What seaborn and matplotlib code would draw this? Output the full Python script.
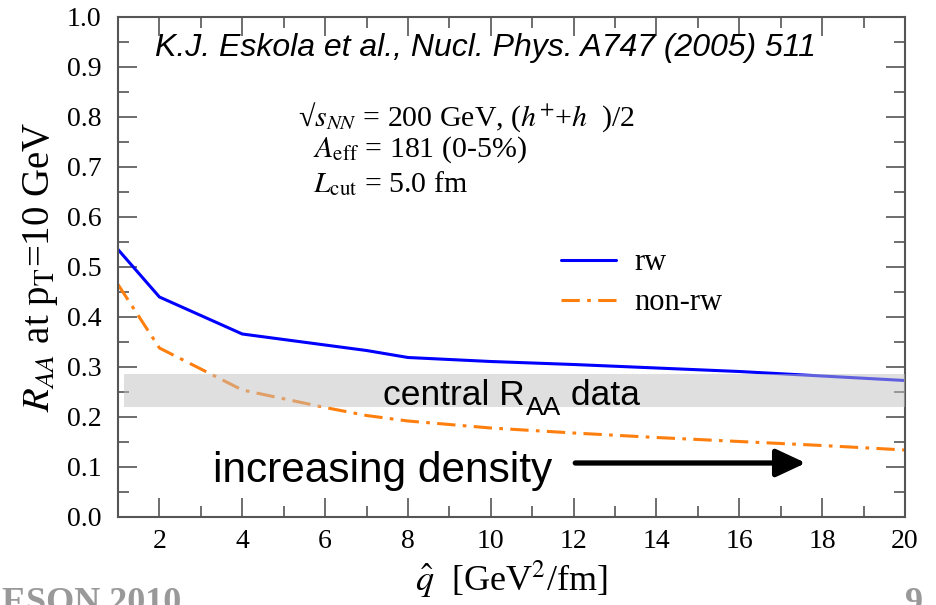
import numpy as np
import pandas as pd
import matplotlib
matplotlib.use("Agg")
import matplotlib.pyplot as plt
import seaborn as sns
from matplotlib.ticker import MultipleLocator

# ---- data ----
qhat = [1, 2, 4, 6, 7, 8, 10, 12, 14, 16, 18, 20]
raa_rw = [0.535, 0.440, 0.366, 0.344, 0.333, 0.319, 0.311, 0.305, 0.298, 0.291, 0.282, 0.273]
raa_nonrw = [0.465, 0.338, 0.254, 0.219, 0.203, 0.192, 0.178, 0.168, 0.159, 0.151, 0.143, 0.134]
band_lo, band_hi = 0.22, 0.285
series_names = ["rw", "non-rw"]

df = pd.DataFrame({
    "qhat": qhat * 2,
    "raa": raa_rw + raa_nonrw,
    "model": [series_names[0]] * len(qhat) + [series_names[1]] * len(qhat),
})

sns.set_theme(style="white")
plt.rcParams["font.family"] = ["Liberation Serif", "DejaVu Serif"]
plt.rcParams["mathtext.fontset"] = "stix"
plt.rcParams["text.color"] = "black"
plt.rcParams["axes.labelcolor"] = "black"

fig = plt.figure(figsize=(9.37, 6.05), dpi=100)
ax = fig.add_axes([118 / 937, 1 - 517 / 605, (905 - 118) / 937, (517 - 17) / 605])

colors = {"rw": "#0000ff", "non-rw": "#ff7f0e"}
sns.lineplot(data=df[df.model == "rw"], x="qhat", y="raa", color=colors["rw"],
             lw=2.2, ax=ax, label="rw", zorder=2)
sns.lineplot(data=df[df.model == "non-rw"], x="qhat", y="raa", color=colors["non-rw"],
             lw=2.2, ax=ax, label="non-rw", zorder=2)
ax.lines[1].set_dashes([6, 2.4, 1.2, 2.4])

# gray band on top (semi-transparent)
ax.fill_between([1.14, 20], band_lo, band_hi, color="#c0c0c0", alpha=0.5, lw=0, zorder=3)

ax.set_xlim(1, 20)
ax.set_ylim(0, 1.0)
ax.xaxis.set_minor_locator(MultipleLocator(1))
ax.yaxis.set_major_locator(MultipleLocator(0.1))
ax.yaxis.set_minor_locator(MultipleLocator(0.05))
ax.set_xticks(np.arange(2, 21, 2))
ax.set_xticklabels([str(v) for v in range(2, 21, 2)])
ax.yaxis.set_major_formatter(matplotlib.ticker.FormatStrFormatter("%.1f"))
ax.tick_params(which="both", direction="in", top=True, right=True, bottom=True, left=True,
               color="#555555", labelsize=20, labelcolor="black", width=1.2)
ax.tick_params(which="major", length=14)
ax.tick_params(which="minor", length=8)
ax.tick_params(axis="x", which="major", pad=9)
ax.tick_params(axis="y", which="major", pad=12)
for s in ax.spines.values():
    s.set_color("#555555")
    s.set_linewidth(1.5)
    s.set_visible(True)

ax.set_xlabel(r"$\hat{q}$  [GeV$^{2}$/fm]", fontsize=26, labelpad=3)
ax.set_ylabel(r"$R_{AA}$ at p$_{\rm T}$=10 GeV", fontsize=28, labelpad=5)

leg = ax.legend(loc="upper left", bbox_to_anchor=(0.563, 0.537), frameon=False,
                fontsize=22, handlelength=1.8, handletextpad=0.6, labelspacing=0.35,
                borderpad=0, borderaxespad=0)

sans = ["Liberation Sans", "DejaVu Sans"]
ax.text(0.047, 0.938, "K.J. Eskola et al., Nucl. Phys. A747 (2005) 511", transform=ax.transAxes,
        fontsize=23, style="italic", family=sans, va="center", ha="left")
ax.text(0.229, 0.80, "√" + r"$s_{NN}$ = 200 GeV, ($h^{+}$+$h$  )/2", transform=ax.transAxes,
        fontsize=21.5, va="center", ha="left")
ax.text(0.248, 0.734, r"$A_{\rm eff}$ = 181 (0-5%)", transform=ax.transAxes,
        fontsize=21.5, va="center", ha="left")
ax.text(0.248, 0.666, r"$L_{\rm cut}$ = 5.0 fm", transform=ax.transAxes,
        fontsize=21.5, va="center", ha="left")

t1 = ax.text(0.337, 0.224, "central R", transform=ax.transAxes,
             fontsize=25.5, family=sans, va="baseline", ha="left", zorder=5)
t2 = ax.annotate("AA", xy=(1, 0), xycoords=t1, xytext=(0.5, -6), textcoords="offset points",
                 fontsize=19, family=sans, va="bottom", ha="left", zorder=5)
t3 = ax.annotate(" data", xy=(1, 0), xycoords=t2, xytext=(0, 6), textcoords="offset points",
                 fontsize=25.5, family=sans, va="bottom", ha="left", zorder=5)

ax.text(0.121, 0.07, "increasing density", transform=ax.transAxes,
        fontsize=30.5, family=sans, va="baseline", ha="left", zorder=5)
ax.annotate("", xy=(0.874, 0.108), xytext=(0.581, 0.108), xycoords="axes fraction",
            arrowprops=dict(arrowstyle="-|>,head_length=0.9,head_width=0.42", color="black",
                            lw=3.8, shrinkA=0, shrinkB=0, mutation_scale=20), zorder=5)

fig.text(0.002, 1 - 587 / 605, "ESON 2010", fontsize=26, weight="bold", color="#999999",
         va="top", ha="left")
fig.text(0.966, 1 - 587 / 605, "9", fontsize=26, weight="bold", color="#999999",
         va="top", ha="left")

fig.savefig("out.png", dpi=100)
